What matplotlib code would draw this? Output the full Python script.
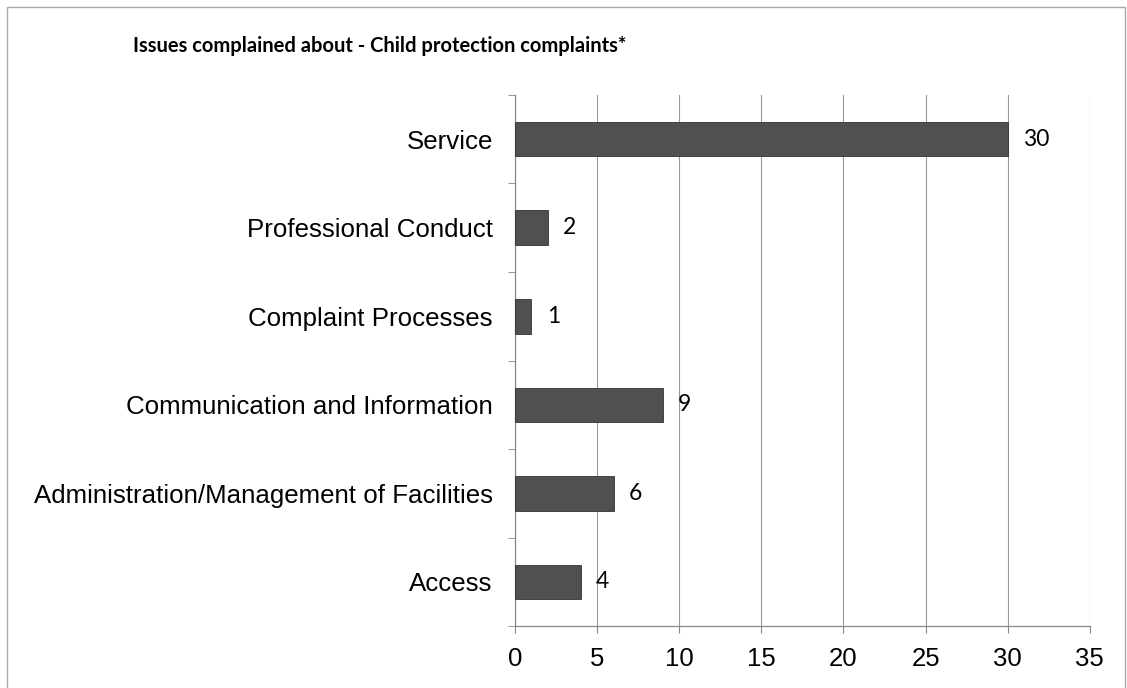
"""Horizontal bar chart: Issues complained about - Child protection complaints."""

import matplotlib

matplotlib.use("Agg")
import matplotlib.pyplot as plt
from matplotlib.patches import Rectangle

categories = [
    "Access",
    "Administration/Management of Facilities",
    "Communication and Information",
    "Complaint Processes",
    "Professional Conduct",
    "Service",
]
counts = [4, 6, 9, 1, 2, 30]
x_ticks = [0, 5, 10, 15, 20, 25, 30, 35]

title = "Issues complained about - Child protection complaints*"

fig = plt.figure(figsize=(11.27, 6.88), dpi=100)
ax = fig.add_axes([0.457, 0.090, 0.510, 0.772])

ypos = list(range(len(categories)))
ax.barh(ypos, counts, height=0.39, color="#505050",
        edgecolor="#333333", linewidth=0.6, zorder=3)

for y, v in zip(ypos, counts):
    ax.annotate(str(v), xy=(v, y), xytext=(11, 0), textcoords="offset points",
                va="center", ha="left", fontsize=16.5, family="Lato",
                color="black")

ax.set_xlim(0, 35)
ax.set_ylim(-0.5, len(categories) - 0.5)
ax.set_xticks(x_ticks)
ax.set_xticklabels([str(t) for t in x_ticks], family="Liberation Sans",
                   fontsize=18.5)
ax.set_yticks(ypos)
ax.set_yticklabels(categories, family="Liberation Sans", fontsize=18.6)

# Excel-style tick marks at category boundaries
ax.set_yticks([y + 0.5 for y in range(-1, len(categories))], minor=True)
ax.tick_params(axis="y", which="major", length=0, pad=16)
ax.tick_params(axis="y", which="minor", length=5, color="#888888",
               direction="out")
ax.tick_params(axis="x", which="major", length=5, color="#888888",
               direction="out", pad=10)

ax.grid(axis="x", color="#9a9a9a", linewidth=0.8, zorder=0)
for side in ("top", "right"):
    ax.spines[side].set_visible(False)
for side in ("left", "bottom"):
    ax.spines[side].set_color("#888888")
    ax.spines[side].set_linewidth(0.9)

fig.text(0.118, 0.933, title, family="Lato", fontweight="bold",
         fontsize=14.5, ha="left", va="center")

fig.patches.append(Rectangle((0.006, -0.01), 0.992, 1.0, transform=fig.transFigure,
                             fill=False, edgecolor="#aaaaaa", linewidth=1.0))

fig.savefig("out.png", dpi=100)
